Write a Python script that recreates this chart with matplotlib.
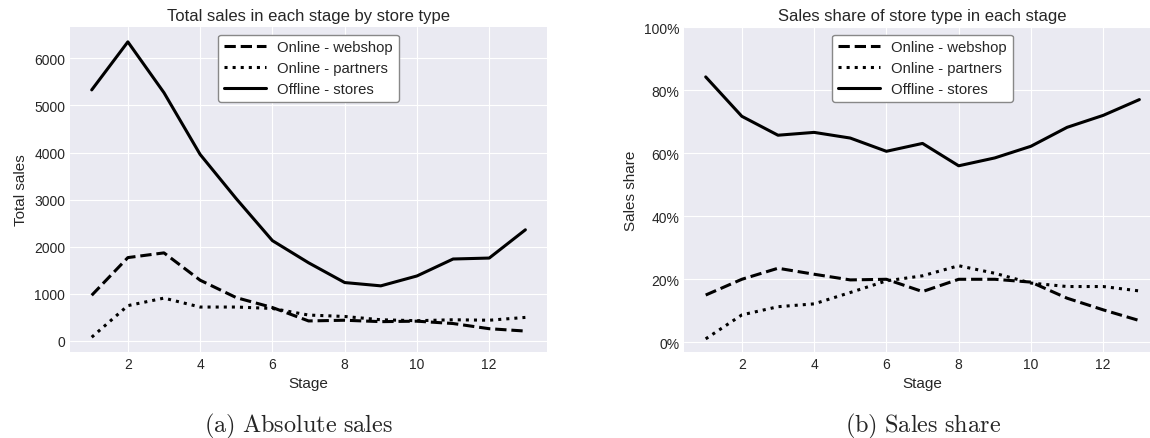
import numpy as np
import matplotlib.pyplot as plt
from matplotlib.ticker import PercentFormatter

plt.style.use("seaborn-v0_8-darkgrid")
plt.rcParams["font.family"] = ["Liberation Sans", "DejaVu Sans"]
plt.rcParams["mathtext.fontset"] = "cm"

stages = list(range(1, 14))
series_names = ["Online - webshop", "Online - partners", "Offline - stores"]
styles = ["--", ":", "-"]

# total sales per stage
sales_webshop = [970, 1770, 1870, 1290, 920, 710, 425, 440, 410, 420, 370, 260, 210]
sales_partners = [80, 750, 910, 720, 720, 690, 550, 520, 450, 430, 450, 440, 500]
sales_stores = [5330, 6350, 5270, 3960, 3020, 2130, 1660, 1240, 1170, 1380, 1740, 1760, 2360]

# share of sales per stage
share_webshop = [0.150, 0.200, 0.235, 0.216, 0.198, 0.200, 0.161, 0.200, 0.200, 0.191, 0.140, 0.103, 0.069]
share_partners = [0.011, 0.087, 0.113, 0.122, 0.158, 0.195, 0.211, 0.243, 0.219, 0.188, 0.177, 0.177, 0.163]
share_stores = [0.842, 0.717, 0.657, 0.666, 0.648, 0.606, 0.631, 0.560, 0.585, 0.622, 0.682, 0.720, 0.770]

fig = plt.figure(figsize=(11.5, 4.39), dpi=100)
ax1 = fig.add_axes([0.0609, 0.196, 0.4148, 0.740])
ax2 = fig.add_axes([0.5948, 0.196, 0.4148, 0.740])

for vals, name, ls in zip([sales_webshop, sales_partners, sales_stores], series_names, styles):
    ax1.plot(stages, vals, ls, color="black", lw=2.2, label=name)
for vals, name, ls in zip([share_webshop, share_partners, share_stores], series_names, styles):
    ax2.plot(stages, vals, ls, color="black", lw=2.2, label=name)

ax1.set_title("Total sales in each stage by store type", fontsize=12, pad=5)
ax1.set_xlabel("Stage", fontsize=11)
ax1.set_ylabel("Total sales", fontsize=11)
ax1.set_xticks([2, 4, 6, 8, 10, 12])

ax2.set_title("Sales share of store type in each stage", fontsize=12, pad=5)
ax2.set_xlabel("Stage", fontsize=11)
ax2.set_ylabel("Sales share", fontsize=11)
ax2.set_xticks([2, 4, 6, 8, 10, 12])
ax2.set_ylim(top=1.0)
ax2.set_yticks(np.arange(0, 1.01, 0.2))
ax2.yaxis.set_major_formatter(PercentFormatter(1.0, decimals=0))

for ax in (ax1, ax2):
    ax.tick_params(labelsize=10)
    ax.set_xlim(0.4, 13.6)
    ax.legend(loc="upper center", frameon=True, fontsize=10.7,
              handlelength=2.8, facecolor="white", edgecolor="#888888",
              framealpha=1.0, labelspacing=0.45)

fig.text(0.26, 0.016, r"$\mathrm{(a)\ Absolute\ sales}$", ha="center", va="baseline", fontsize=17.5)
fig.text(0.803, 0.016, r"$\mathrm{(b)\ Sales\ share}$", ha="center", va="baseline", fontsize=17.5)

fig.savefig("out.png", dpi=100)
